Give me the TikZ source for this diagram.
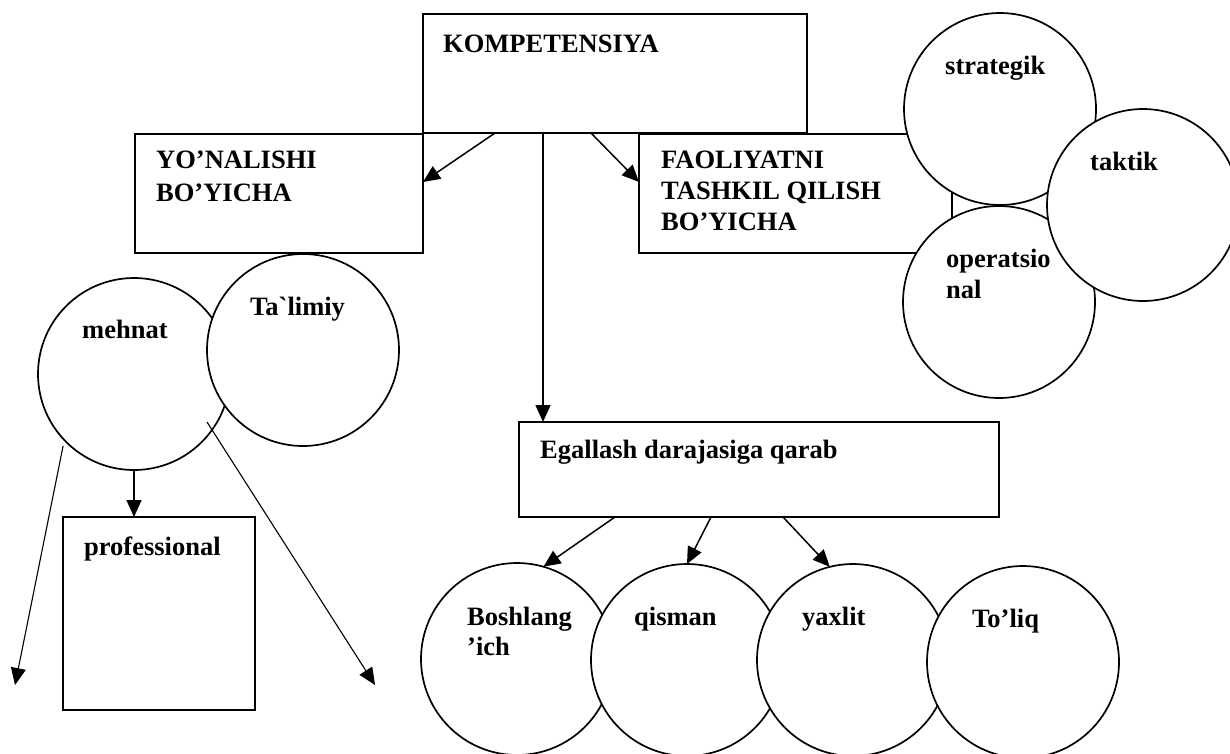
\documentclass[tikz,border=0pt]{standalone}
\usepackage{fontspec}
\setmainfont{Liberation Serif}[Ligatures=TeXOff]
\usetikzlibrary{arrows.meta,calc}
\begin{document}
\begin{tikzpicture}[x=1pt,y=-1pt,
  box/.style={draw,line width=1.8pt,rectangle,inner sep=0pt,outer sep=0pt,fill=white},
  circ/.style={draw,line width=1.7pt,circle,minimum size=192pt,inner sep=0pt,outer sep=0pt,fill=white},
  lbl/.style={anchor=base west,inner sep=0pt,font=\bfseries\fontsize{26.5}{31}\selectfont},
  arr/.style={line width=1.5pt,-{Triangle[length=17pt,width=15pt]}},
  thinarr/.style={line width=1.1pt,-{Triangle[length=17pt,width=15pt]}}]
\useasboundingbox (0,0) rectangle (1230,753);
% boxes
\node[box,minimum width=384pt,minimum height=119pt] (komp) at (615,73.5) {};
\node[box,minimum width=288pt,minimum height=119pt] (yon) at (279,193.5) {};
\node[box,minimum width=313pt,minimum height=119pt] (faol) at (795.5,193.5) {};
\node[box,minimum width=480pt,minimum height=95pt] (egal) at (759,469.5) {};
\node[box,minimum width=192pt,minimum height=193pt] (prof) at (159,613.5) {};
% circles
\node[circ] (mehn) at (134,374) {};
\node[circ] (talim) at (303,350) {};
\node[circ] (strat) at (1000,109) {};
\node[circ] (oper) at (999,302) {};
\node[circ] (takt) at (1143,205) {};
\node[circ] (bosh) at (517,659) {};
\node[circ] (qism) at (687,660) {};
\node[circ] (yax) at (853,660) {};
\node[circ] (toliq) at (1023,662) {};
% free ends
\coordinate (endL) at (15,685);
\coordinate (endR) at (375,685);
% connectors
\draw[arr] ($(komp.south west)+(72,0)$) -- ($(yon.north east)+(0,48)$);
\draw[arr] ($(komp.south west)+(168,0)$) -- ($(faol.north west)+(0,48)$);
\draw[arr] ($(komp.south west)+(120,0)$) -- ($(egal.north west)+(24,0)$);
\draw[arr] ($(egal.south west)+(96,0)$) -- (bosh.74);
\draw[arr] ($(egal.south west)+(192,0)$) -- (qism.north);
\draw[arr] ($(egal.south west)+(264,0)$) -- (yax.104);
\draw[arr] (mehn.south) -- (mehn.south |- prof.north);
\draw[thinarr] ($(mehn.225)+(-3,4)$) -- (endL);
\draw[thinarr] ($(mehn.center)+(73,48)$) -- (endR);
% labels
\node[lbl] (tkomp) at (443,52) {KOMPETENSIYA};
\node[lbl] (tyon1) at (156,168) {YO’NALISHI};
\node[lbl] (tyon2) at (156,201) {BO’YICHA};
\node[lbl] (tfaol1) at (661,168) {FAOLIYATNI};
\node[lbl] (tfaol2) at (661,199) {TASHKIL QILISH};
\node[lbl] (tfaol3) at (661,230) {BO’YICHA};
\node[lbl] (tegal) at (540,458) {Egallash darajasiga qarab};
\node[lbl] (tprof) at (84,555) {professional};
\node[lbl] (tstrat) at (945,74) {strategik};
\node[lbl] (ttakt) at (1090,170) {taktik};
\node[lbl] (toper1) at (946,267) {operatsio};
\node[lbl] (toper2) at (946,298) {nal};
\node[lbl] (tmehn) at (82,338) {mehnat};
\node[lbl] (ttalim) at (250,315) {Ta`limiy};
\node[lbl] (tbosh1) at (467,625) {Boshlang};
\node[lbl] (tbosh2) at (467,655) {’ich};
\node[lbl] (tqism) at (634,625) {qisman};
\node[lbl] (tyax) at (802,625) {yaxlit};
\node[lbl] (ttoliq) at (972,627) {To’liq};
\end{tikzpicture}
\end{document}
